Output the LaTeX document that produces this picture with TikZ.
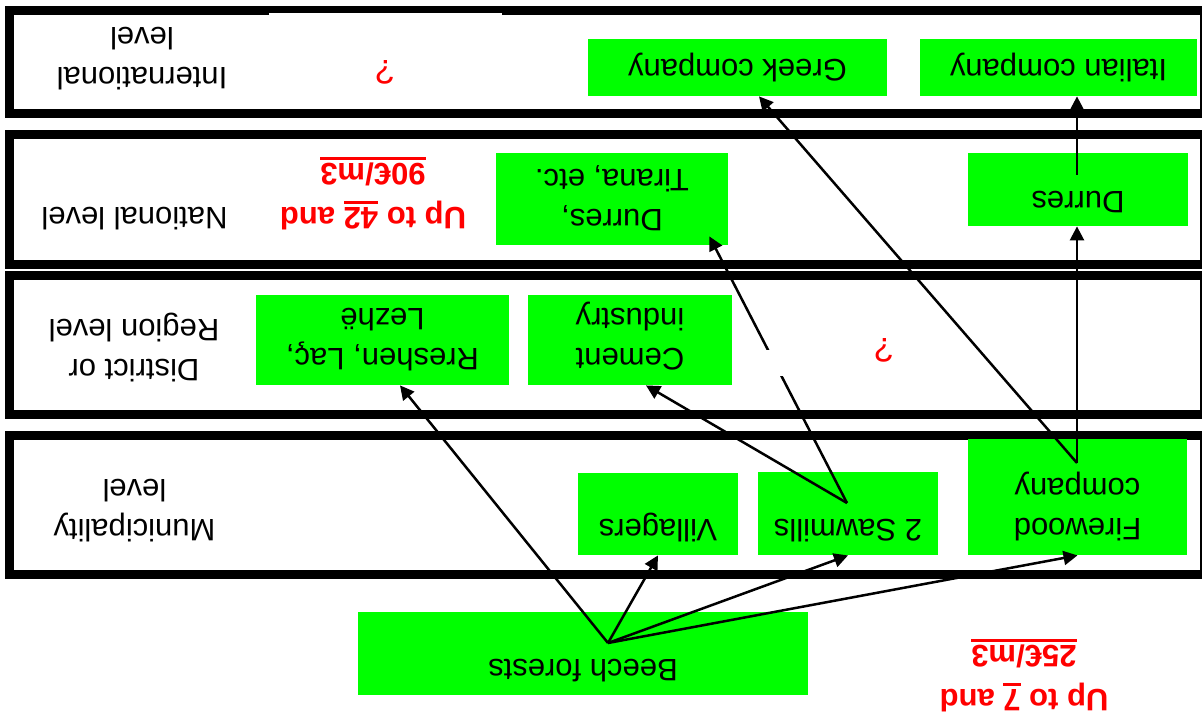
\documentclass[tikz,border=0pt]{standalone}
\usepackage{fontspec}
\setmainfont{Liberation Sans}
\usetikzlibrary{calc,arrows.meta}
\definecolor{boxgreen}{RGB}{0,255,0}
\definecolor{lblred}{RGB}{255,0,0}
\newcommand{\redul}[1]{\setbox0\hbox{#1}\rlap{\rule[-3pt]{\wd0}{1.5pt}}\box0\relax}
\begin{document}
\begin{tikzpicture}
\begin{scope}[rotate=180, transform shape, x=0.5pt, y=0.5pt,
  band/.style={draw=black, line width=4.5pt},
  gbox/.style={fill=boxgreen, draw=none, inner sep=0pt},
  btext/.style={anchor=north, inner sep=0pt, align=center, font=\fontsize{15.5}{20}\selectfont},
  lvl/.style={anchor=north, inner sep=0pt, align=center, font=\fontsize{15.5}{20}\selectfont},
  price/.style={anchor=north, inner sep=0pt, align=center, text=lblred, font=\fontsize{15.5}{22}\selectfont\bfseries},
  qmark/.style={inner sep=0pt, text=lblred, font=\fontsize{17}{20}\selectfont},
  conn/.style={line width=1.25pt, -{Triangle[length=7pt,width=7pt]}}]
\useasboundingbox (0,0) rectangle (1202,715);
% level bands
\draw[band] (-2.5,11) rectangle (1192,114);
\draw[band] (-2.5,134.5) rectangle (1192,264.5);
\draw[band] (-2.5,275.5) rectangle (1192,414.5);
\draw[band] (-2.5,435) rectangle (1192,574.5);
\fill[white] (700,13.3) rectangle (933,16);
% level labels
\node[lvl] (intl-l) at (1060,90.5) {International\\level};
\node[lvl] (nat-l) at (1067.5,230.5) {National level};
\node[lvl] (dist-l) at (1068,382.5) {District or\\Region level};
\node[lvl] (muni-l) at (1067.5,542.5) {Municipality\\level};
% boxes
\node[gbox, minimum width=149.5pt, minimum height=28.5pt] (greek) at (464.5,67.5) {};
\node[gbox, minimum width=138.5pt, minimum height=28.5pt] (italian) at (143.5,67.5) {};
\node[gbox, minimum width=116pt, minimum height=46pt] (durtir) at (590,199) {};
\node[gbox, minimum width=110pt, minimum height=36.5pt] (durres) at (124,189.5) {};
\node[gbox, minimum width=126.5pt, minimum height=45pt] (rreshen) at (819.5,340) {};
\node[gbox, minimum width=102pt, minimum height=45pt] (cement) at (572,340) {};
\node[gbox, minimum width=80pt, minimum height=41pt] (villagers) at (544,514) {};
\node[gbox, minimum width=90pt, minimum height=41.5pt] (sawmills) at (354,513.5) {};
\node[gbox, minimum width=109.5pt, minimum height=58pt] (firewood) at (124.5,497) {};
\node[gbox, minimum width=225pt, minimum height=41.5pt] (beech) at (619,653.5) {};
% box texts
\node[btext] (greek-t) at ($(greek.north)+(0,-14)$) {Greek company};
\node[btext] (italian-t) at ($(italian.north)+(0,-14)$) {Italian company};
\node[btext] (durtir-t) at ($(durtir.north)+(0,-14)$) {Durres,\\Tirana, etc.};
\node[btext] (durres-t) at ($(durres.north)+(0,-13)$) {Durres};
\node[btext] (rreshen-t) at ($(rreshen.north)+(0,-14.5)$) {Rreshen, Laç,\\Lezhë};
\node[btext] (cement-t) at ($(cement.north)+(0,-14.5)$) {Cement\\industry};
\node[btext] (villagers-t) at ($(villagers.north)+(0,-13)$) {Villagers};
\node[btext] (sawmills-t) at ($(sawmills.north)+(0,-13)$) {2 Sawmills};
\node[btext] (firewood-t) at ($(firewood.north)+(0,-14.5)$) {Firewood\\company};
\node[btext] (beech-t) at ($(beech.north)+(0,-13.5)$) {Beech forests};
% prices and question marks
\node[price] (price-nat) at (829,230) {Up to \redul{42} and\\\redul{90€/m3}};
\node[price] (price-loc) at (178,712) {Up to \redul{7} and\\\redul{25€/m3}};
\node[qmark] (q-intl) at (817,72.5) {?};
\node[qmark] (q-dist) at (318,350) {?};
% connector origins
\coordinate (beech-o) at ($(beech.center)+(-25,-10.5)$);
\coordinate (saw-o) at ($(sawmills.center)+(1,-10.5)$);
\coordinate (fw-o) at ($(firewood.center)+(0.5,-34)$);
\coordinate (dur-o) at ($(durres.center)+(1,-14.5)$);
% connectors
\draw[conn] (beech-o) -- (villagers.north);
\draw[conn] (beech-o) -- (sawmills.north);
\draw[conn] (beech-o) -- (firewood.north);
\draw[conn] (beech-o) -- ($(rreshen.north)+(-17.5,0)$);
\draw[conn] (saw-o) -- ($(cement.north)+(-16,0)$);
\draw[conn] (saw-o) -- ($(durtir.north west)+(19,-9)$);
\draw[conn] (fw-o) -- ($(greek.north)+(-21.5,0)$);
\draw[conn] (fw-o) -- (fw-o |- durres.north);
\draw[conn] (dur-o) -- (dur-o |- italian.north);
\fill[white] (412,350) rectangle (442,376);
\end{scope}
\end{tikzpicture}
\end{document}
